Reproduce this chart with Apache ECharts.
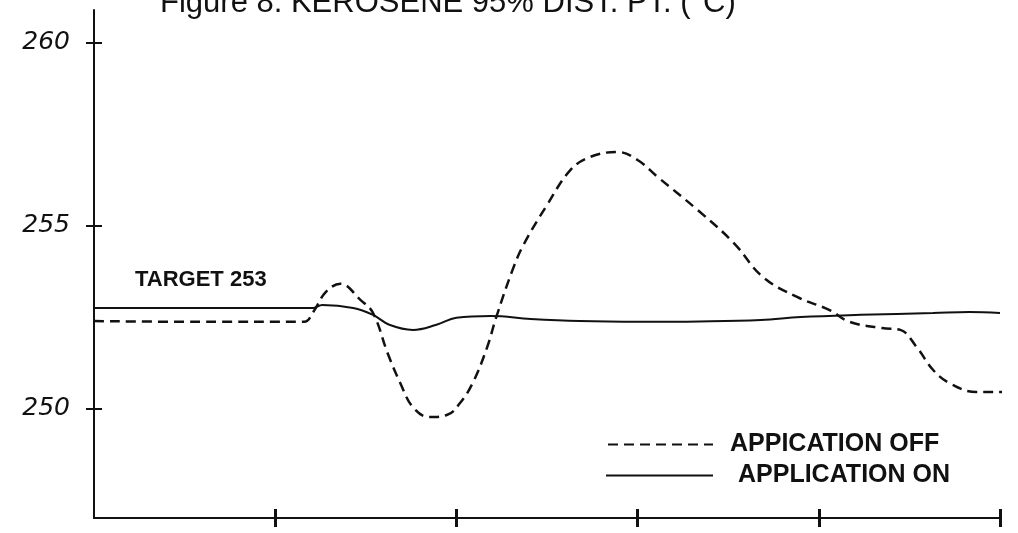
<!DOCTYPE html>
<html>
<head>
<meta charset="utf-8">
<script src="https://cdn.jsdelivr.net/npm/echarts@6/dist/echarts.min.js"></script>
<style>
    html, body { margin: 0; padding: 0; background: #fff; }
    #J-line-1 { width: 1018px; height: 533px; }
</style>
</head>
<body>
<div id="J-line-1"></div>
<script>
// time axis (no labels in the original, 5 tick divisions)
const xTicks = [1, 2, 3, 4, 5];
const yTicks = [250, 255, 260];

// APPLICATION ON (solid)
const onTime = [0, 0.59, 1.21, 1.26, 1.43, 1.54, 1.63, 1.76, 1.89, 2.0, 2.19, 2.41, 2.68, 3.01, 3.34, 3.68, 3.9, 4.23, 4.63, 4.83, 5.0];
const onTemp = [252.76, 252.76, 252.76, 252.84, 252.76, 252.57, 252.3, 252.16, 252.3, 252.49, 252.54, 252.46, 252.4, 252.38, 252.39, 252.43, 252.51, 252.57, 252.62, 252.65, 252.62];

// APPICATION OFF (dashed)
const offTime = [0, 0.59, 1.16, 1.21, 1.28, 1.36, 1.47, 1.54, 1.62, 1.69, 1.76, 1.85, 1.95, 2.02, 2.09, 2.17, 2.22, 2.31, 2.37, 2.5, 2.63, 2.74, 2.89, 3.0, 3.11, 3.33, 3.53, 3.69, 3.88, 4.06, 4.17, 4.35, 4.45, 4.54, 4.63, 4.72, 4.87, 5.0, 5.1];
const offTemp = [252.4, 252.38, 252.38, 252.65, 253.2, 253.42, 252.98, 252.62, 251.53, 250.71, 250.05, 249.78, 249.84, 250.16, 250.71, 251.69, 252.51, 253.8, 254.48, 255.57, 256.53, 256.89, 257.02, 256.8, 256.34, 255.44, 254.54, 253.61, 253.06, 252.7, 252.38, 252.21, 252.16, 251.69, 251.07, 250.71, 250.46, 250.46, 250.57];

const zip = (a, b) => a.map((v, i) => [v, b[i]]);

const FONT = '"Liberation Sans", Arial, sans-serif';
const INK = '#111';

const option = {
    animation: false,
    backgroundColor: '#fff',
    title: {
        text: 'Figure 8. KEROSENE 95% DIST. PT. (°C)',
        left: 155,
        top: -17,
        textStyle: {
            fontFamily: FONT,
            fontSize: 31,
            fontWeight: 'normal',
            color: INK,
        }
    },
    legend: [
        {
            data: ['APPICATION OFF'],
            left: 602,
            top: 427,
            itemWidth: 105,
            itemHeight: 14,
            itemStyle: { opacity: 0 },
            textStyle: {
                fontFamily: FONT,
                fontSize: 25,
                fontWeight: 'bold',
                color: INK,
                padding: [0, 0, 0, 12],
            }
        },
        {
            data: ['APPLICATION ON'],
            left: 600,
            top: 458,
            itemWidth: 107,
            itemHeight: 14,
            itemStyle: { opacity: 0 },
            textStyle: {
                fontFamily: FONT,
                fontSize: 25,
                fontWeight: 'bold',
                color: INK,
                padding: [0, 0, 0, 20],
            }
        }
    ],
    grid: {
        left: 94,
        right: 18,
        top: 10,
        bottom: 15,
    },
    xAxis: [
        {
            type: 'value',
            min: 0,
            max: 5,
            axisLine: { lineStyle: { color: INK, width: 2 } },
            axisTick: { customValues: xTicks, length: 9, lineStyle: { color: INK, width: 3 } },
            axisLabel: { show: false },
            splitLine: { show: false },
        },
        {
            type: 'value',
            min: 0,
            max: 5,
            position: 'bottom',
            axisLine: { show: false },
            axisTick: { customValues: xTicks, inside: true, length: 9, lineStyle: { color: INK, width: 3 } },
            axisLabel: { show: false },
            splitLine: { show: false },
        }
    ],
    yAxis: [
        {
            type: 'value',
            min: 247.02,
            max: 260.9,
            axisLine: { show: true, lineStyle: { color: INK, width: 2 } },
            axisTick: { show: true, customValues: yTicks, length: 8, lineStyle: { color: INK, width: 2 } },
            axisLabel: {
                customValues: yTicks,
                margin: 24,
                fontFamily: '"DejaVu Sans", sans-serif',
                fontStyle: 'italic',
                fontSize: 25,
                color: INK,
            },
            splitLine: { show: false },
        },
        {
            // second copy shifted right so the ticks cross the axis line
            type: 'value',
            min: 247.02,
            max: 260.9,
            position: 'left',
            offset: -8,
            axisLine: { show: false },
            axisTick: { show: true, customValues: yTicks, length: 8, lineStyle: { color: INK, width: 2 } },
            axisLabel: { show: false },
            splitLine: { show: false },
        }
    ],
    graphic: [
        {
            type: 'text',
            left: 135,
            top: 269,
            style: {
                text: 'TARGET 253',
                fontFamily: FONT,
                fontSize: 22,
                fontWeight: 'bold',
                fill: INK,
            }
        }
    ],
    series: [
        {
            name: 'APPICATION OFF',
            type: 'line',
            xAxisIndex: 1,
            yAxisIndex: 1,
            smooth: 0.4,
            symbol: 'none',
            clip: false,
            lineStyle: { color: INK, width: 2.5, type: [10, 6] },
            itemStyle: { color: INK },
            data: zip(offTime, offTemp),
        },
        {
            name: 'APPLICATION ON',
            type: 'line',
            smooth: 0.4,
            symbol: 'none',
            lineStyle: { color: INK, width: 2 },
            itemStyle: { color: INK },
            data: zip(onTime, onTemp),
        }
    ]
};

const id = 'J-line-1';
const chart = echarts.init(document.getElementById(id));
chart.setOption(option);
</script>
</body>
</html>
